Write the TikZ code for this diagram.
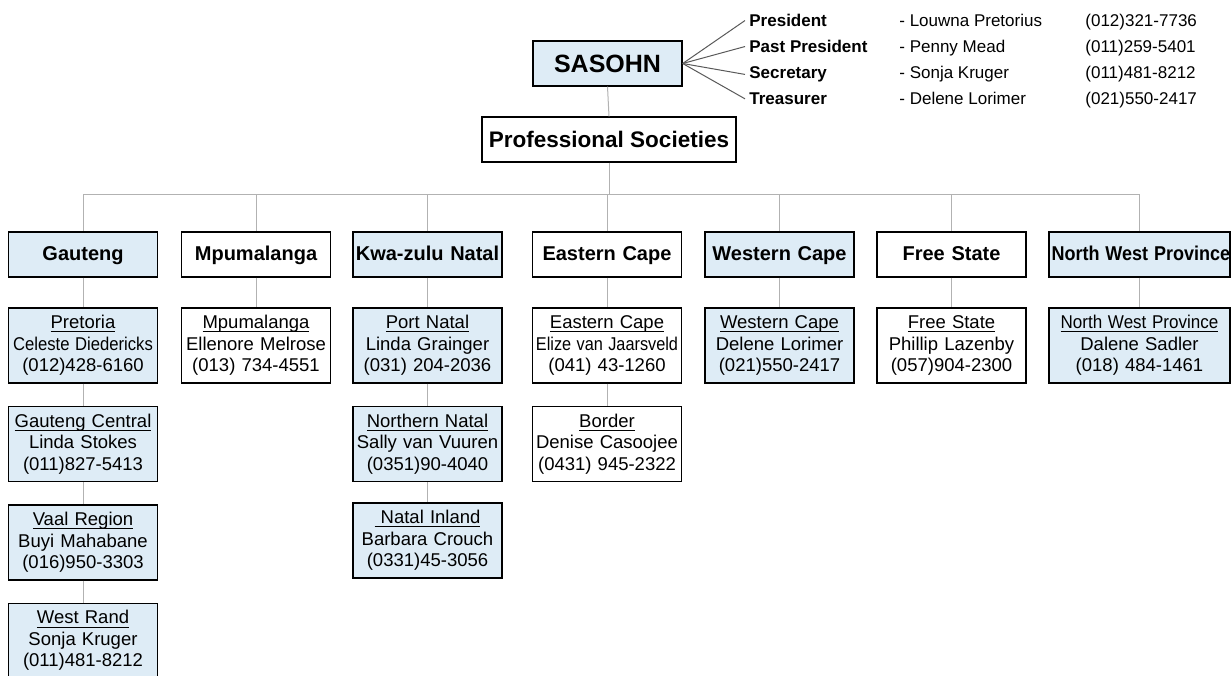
\documentclass[tikz,border=0pt]{standalone}
\usepackage{fontspec}
\setmainfont{Liberation Sans}
\usetikzlibrary{positioning}

\definecolor{paleblue}{RGB}{222,236,246}
\newcommand\undl[1]{\leavevmode{\setbox0=\hbox{#1}\rlap{\vrule width\wd0 height -1.3pt depth 1.85pt}\box0}}

\tikzset{
	box/.style={draw=black, line width=0.7pt, inner sep=1pt, align=center},
	tinted/.style={fill=paleblue},
	head/.style={box, minimum width=74.5pt, minimum height=22.5pt, text width=72pt,
		text height=1.6ex, text depth=0.5ex, font=\fontsize{10}{12}\selectfont\bfseries},
	sub/.style={box, minimum width=74.5pt, minimum height=37.5pt, text width=72pt,
		font=\fontsize{9.25}{10.75}\selectfont},
	wide/.style={minimum width=90.5pt, text width=88pt},
	link/.style={draw=black!30, line width=0.5pt},
	fan/.style={draw=black!65, line width=0.5pt},
	role/.style={anchor=base west, inner sep=2pt, font=\fontsize{8.5}{10}\selectfont}
}

\begin{document}
\begin{tikzpicture}[x=0.5pt, y=-0.5pt]
	\useasboundingbox (0,0) rectangle (1231,675);
	% society and its officers
	\node [box, tinted, minimum width=74.5pt, minimum height=22.5pt,
		font=\fontsize{12.5}{15}\selectfont\bfseries] (sasohn) at (607.5,63.5) {SASOHN};
	\node [box, minimum width=127pt, minimum height=22.5pt,
		font=\fontsize{11.25}{13}\selectfont\bfseries] (prof) at (609,139.5) {Professional Societies};
	\node [role, font=\fontsize{8.5}{10}\selectfont\bfseries] (rPres) at (745,26.6) {President};
	\node [role, font=\fontsize{8.5}{10}\selectfont\bfseries] (rPast) at (745,52.6) {Past President};
	\node [role, font=\fontsize{8.5}{10}\selectfont\bfseries] (rSecr) at (745,78.6) {Secretary};
	\node [role, font=\fontsize{8.5}{10}\selectfont\bfseries] (rTreas) at (745,104.6) {Treasurer};
	\node [role] (nPres) at (895,26.6) {- Louwna Pretorius};
	\node [role] (nPast) at (895,52.6) {- Penny Mead};
	\node [role] (nSecr) at (895,78.6) {- Sonja Kruger};
	\node [role] (nTreas) at (895,104.6) {- Delene Lorimer};
	\node [role] (tPres) at (1081,26.6) {(012)321-7736};
	\node [role] (tPast) at (1081,52.6) {(011)259-5401};
	\node [role] (tSecr) at (1081,78.6) {(011)481-8212};
	\node [role] (tTreas) at (1081,104.6) {(021)550-2417};
	\draw [fan] (sasohn.east) -- (rPres.west);
	\draw [fan] (sasohn.east) -- (rPast.west);
	\draw [fan] (sasohn.east) -- (rSecr.west);
	\draw [fan] (sasohn.east) -- (rTreas.west);

	% provinces
	\node [head, tinted] (gau) at (83,254.5) {Gauteng};
	\node [head] (mpu) at (256,254.5) {Mpumalanga};
	\node [head, tinted] (kzn) at (427.5,254.5) {Kwa-zulu Natal};
	\node [head] (ecp) at (607,254.5) {Eastern Cape};
	\node [head, tinted] (wcp) at (779.5,254.5) {Western Cape};
	\node [head] (fst) at (951.5,254.5) {Free State};
	\node [head, wide, tinted] (nwp) at (1139.5,254.5) {\scalebox{0.9}[1]{North West Province}};

	% branches
	\node [sub, tinted, below=14.8pt of gau] (pre) {\undl{Pretoria}\\\scalebox{0.9}[1]{Celeste Diedericks}\\(012)428-6160};
	\node [sub, tinted, below=11pt of pre] (gcen) {\undl{Gauteng Central}\\Linda Stokes\\(011)827-5413};
	\node [sub, tinted, below=11pt of gcen] (vaal) {\undl{Vaal Region}\\Buyi Mahabane\\(016)950-3303};
	\node [sub, tinted, below=11pt of vaal] (wran) {\undl{West Rand}\\Sonja Kruger\\(011)481-8212};
	\node [sub, below=14.8pt of mpu] (mpuS) {\undl{Mpumalanga}\\Ellenore Melrose\\(013) 734-4551};
	\node [sub, tinted, below=14.8pt of kzn] (pnat) {\undl{Port Natal}\\Linda Grainger\\(031) 204-2036};
	\node [sub, tinted, below=11pt of pnat] (nnat) {\undl{Northern Natal}\\Sally van Vuuren\\(0351)90-4040};
	\node [sub, tinted, below=10pt of nnat] (ninl) {\undl{\ Natal Inland}\\Barbara Crouch\\(0331)45-3056};
	\node [sub, below=14.8pt of ecp] (ecpS) {\undl{Eastern Cape}\\\scalebox{0.88}[1]{Elize van Jaarsveld}\\(041) 43-1260};
	\node [sub, below=11pt of ecpS] (bord) {\undl{Border}\\Denise Casoojee\\(0431) 945-2322};
	\node [sub, tinted, below=14.8pt of wcp] (wcpS) {\undl{Western Cape}\\Delene Lorimer\\(021)550-2417};
	\node [sub, below=14.8pt of fst] (fstS) {\undl{Free State}\\Phillip Lazenby\\(057)904-2300};
	\node [sub, wide, tinted, below=14.8pt of nwp] (nwpS) {\undl{\scalebox{0.92}[1]{North West Province}}\\Dalene Sadler\\(018) 484-1461};

	% connectors
	\coordinate (bus) at (0,194);
	\draw [link] (sasohn.south) -- (prof.north);
	\draw [link] (prof.south) -- (prof.south |- bus);
	\draw [link] (gau.north |- bus) -- (nwp.north |- bus);
	\draw [link] (gau.north |- bus) -- (gau.north);
	\draw [link] (mpu.north |- bus) -- (mpu.north);
	\draw [link] (kzn.north |- bus) -- (kzn.north);
	\draw [link] (ecp.north |- bus) -- (ecp.north);
	\draw [link] (wcp.north |- bus) -- (wcp.north);
	\draw [link] (fst.north |- bus) -- (fst.north);
	\draw [link] (nwp.north |- bus) -- (nwp.north);
	\draw [link] (gau) -- (pre);
	\draw [link] (pre) -- (gcen);
	\draw [link] (gcen) -- (vaal);
	\draw [link] (vaal) -- (wran);
	\draw [link] (mpu) -- (mpuS);
	\draw [link] (kzn) -- (pnat);
	\draw [link] (pnat) -- (nnat);
	\draw [link] (nnat) -- (ninl);
	\draw [link] (ecp) -- (ecpS);
	\draw [link] (ecpS) -- (bord);
	\draw [link] (wcp) -- (wcpS);
	\draw [link] (fst) -- (fstS);
	\draw [link] (nwp) -- (nwpS);
\end{tikzpicture}
\end{document}
